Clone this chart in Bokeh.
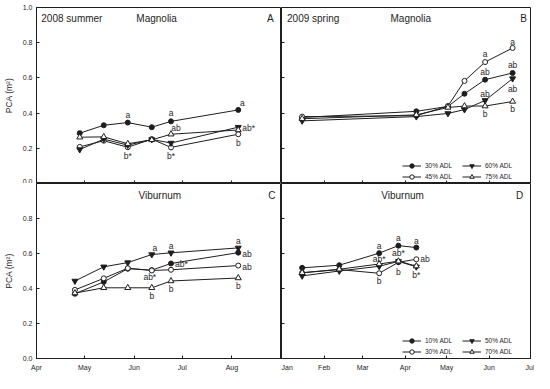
import pandas as pd
from bokeh.plotting import figure
from bokeh.layouts import gridplot
from bokeh.models import (FixedTicker, DatetimeTickFormatter, Legend, LegendItem,
                          Range1d, ColumnDataSource, PrintfTickFormatter)
from bokeh.core.properties import value
from bokeh.embed import file_html
from bokeh.resources import INLINE

# ---------------- data ----------------
# Panel A: Magnolia, 2008 summer
dates_mag08 = ["2008-04-28", "2008-05-13", "2008-05-28", "2008-06-12", "2008-06-24", "2008-08-05"]
mag08_30 = [0.286, 0.331, 0.346, 0.320, 0.353, 0.418]
mag08_45 = [0.208, 0.243, 0.206, 0.252, 0.205, 0.280]
mag08_60 = [0.193, 0.252, 0.218, 0.250, 0.230, 0.320]
mag08_75 = [0.263, 0.265, 0.226, 0.248, 0.280, 0.304]

# Panel B: Magnolia, 2009 spring
dates_mag09 = ["2009-01-16", "2009-04-09", "2009-05-02", "2009-05-14", "2009-05-29", "2009-06-18"]
mag09_30 = [0.375, 0.410, 0.438, 0.510, 0.590, 0.628]
mag09_45 = [0.380, 0.385, 0.440, 0.583, 0.690, 0.770]
mag09_60 = [0.356, 0.380, 0.398, 0.420, 0.472, 0.596]
mag09_75 = [0.368, 0.390, 0.432, 0.440, 0.440, 0.466]

# Panel C: Viburnum, 2008 summer
dates_vib08 = ["2008-04-25", "2008-05-13", "2008-05-28", "2008-06-12", "2008-06-24", "2008-08-05"]
vib08_10 = [0.370, 0.438, 0.513, 0.505, 0.543, 0.605]
vib08_30 = [0.392, 0.458, 0.516, 0.503, 0.507, 0.531]
vib08_50 = [0.443, 0.524, 0.548, 0.594, 0.604, 0.632]
vib08_70 = [0.374, 0.404, 0.404, 0.404, 0.443, 0.460]

# Panel D: Viburnum, 2009 spring
dates_vib09 = ["2009-01-16", "2009-02-12", "2009-03-13", "2009-03-27", "2009-04-09"]
vib09_10 = [0.518, 0.533, 0.602, 0.645, 0.634]
vib09_30 = [0.490, 0.508, 0.487, 0.550, 0.567]
vib09_50 = [0.472, 0.500, 0.527, 0.555, 0.524]
vib09_70 = [0.490, 0.510, 0.540, 0.556, 0.528]

months_2008 = ["2008-04-01", "2008-05-01", "2008-06-01", "2008-07-01", "2008-08-01"]
months_2009 = ["2009-01-01", "2009-02-01", "2009-03-01", "2009-04-01", "2009-05-01", "2009-06-01", "2009-07-01"]
y_ticks_top = [0.0, 0.2, 0.4, 0.6, 0.8, 1.0]
y_ticks_bottom = [0.0, 0.2, 0.4, 0.6, 0.8]

# significance letters: (series label, point index, text)
letters_A = [("30% ADL", 2, "a"), ("30% ADL", 4, "a"), ("30% ADL", 5, "a"), ("75% ADL", 4, "ab"),
             ("45% ADL", 2, "b*"), ("45% ADL", 4, "b*"), ("60% ADL", 5, "ab*"), ("45% ADL", 5, "b")]
letters_B = [("45% ADL", 5, "a"), ("45% ADL", 4, "a"), ("30% ADL", 4, "ab"), ("30% ADL", 5, "ab"),
             ("60% ADL", 5, "ab"), ("60% ADL", 4, "ab"), ("75% ADL", 4, "b"), ("75% ADL", 5, "b")]
letters_C = [("50% ADL", 3, "a"), ("50% ADL", 4, "a"), ("50% ADL", 5, "a"), ("10% ADL", 5, "ab"),
             ("10% ADL", 4, "ab*"), ("30% ADL", 3, "ab*"), ("30% ADL", 5, "ab"),
             ("70% ADL", 3, "b"), ("70% ADL", 4, "b"), ("70% ADL", 5, "b")]
letters_D = [("10% ADL", 2, "a"), ("10% ADL", 3, "a"), ("10% ADL", 4, "a"), ("50% ADL", 2, "ab*"),
             ("30% ADL", 3, "ab*"), ("30% ADL", 2, "b"), ("30% ADL", 3, "b"), ("30% ADL", 4, "ab"),
             ("50% ADL", 4, "b*")]

# letter placement (pixel offsets, alignment) – styling only
place_A = [(0, -8, "center"), (0, -8, "center"), (4, -7, "center"), (5, -6, "center"),
           (0, 9, "center"), (0, 9, "center"), (4, 1, "left"), (0, 9, "center")]
place_B = [(0, -6, "center"), (0, -8, "center"), (0, -8, "center"), (0, -8, "center"),
           (0, 10, "center"), (0, -6, "center"), (0, 8, "center"), (0, 8, "center")]
place_C = [(3, -7, "center"), (0, -7, "center"), (0, -7, "center"), (4, 1, "left"),
           (4, 1, "left"), (-2, 7, "center"), (4, 1, "left"),
           (0, 8, "center"), (0, 8, "center"), (0, 8, "center")]
place_D = [(0, -7, "center"), (0, -8, "center"), (0, -7, "center"), (0, -7, "center"),
           (0, -9, "center"), (0, 8, "center"), (0, 10, "center"), (4, 0, "left"),
           (0, 8, "center")]

FONT = "Liberation Sans"
INK = "#1e1e1e"
STYLES = [dict(marker="circle", fill_color=INK, size=5),
          dict(marker="circle", fill_color="white", size=5),
          dict(marker="inverted_triangle", fill_color=INK, size=6),
          dict(marker="triangle", fill_color="white", size=6)]


def tick_ms(d):
    return pd.Timestamp(d).value / 1e6


def make_panel(width, height, mbl, mbr, mbt, mbb, xr, month_ticks, y_ticks,
               show_x_labels, show_y_labels):
    p = figure(width=width, height=height, output_backend="svg", toolbar_location=None,
               x_axis_type="datetime",
               x_range=Range1d(pd.Timestamp(xr[0]), pd.Timestamp(xr[1])),
               y_range=Range1d(0, 1),
               min_border_left=mbl, min_border_right=mbr, min_border_top=mbt, min_border_bottom=mbb)
    p.background_fill_color = "white"
    p.border_fill_color = "white"
    p.outline_line_color = INK
    p.outline_line_width = 1
    p.xgrid.visible = False
    p.ygrid.visible = False
    xt = [tick_ms(m) for m in month_ticks]
    p.xaxis.ticker = FixedTicker(ticks=xt)
    p.xaxis.formatter = DatetimeTickFormatter(years="%b", months="%b", days="%b", hours="%b",
                                              hourmin="%b", minutes="%b", minsec="%b",
                                              seconds="%b", milliseconds="%b", microseconds="%b")
    p.yaxis.ticker = FixedTicker(ticks=y_ticks)
    p.yaxis.formatter = PrintfTickFormatter(format="%.1f")
    for ax in (p.xaxis[0], p.yaxis[0]):
        ax.axis_line_color = INK
        ax.major_tick_line_color = INK
        ax.major_tick_in = 3
        ax.major_tick_out = 0
        ax.minor_tick_line_color = None
        ax.major_label_text_font = FONT
        ax.major_label_text_font_size = "7px"
        ax.major_label_text_color = INK
    if show_x_labels:
        p.xaxis.major_label_standoff = 5
    else:
        p.xaxis.major_label_overrides = {t: "" for t in xt}
        p.xaxis.major_label_standoff = 0
    if show_y_labels:
        p.yaxis.major_label_standoff = 4
        p.yaxis.axis_label = "PCA (m²)"
        p.yaxis.axis_label_text_font = FONT
        p.yaxis.axis_label_text_font_size = "8.5px"
        p.yaxis.axis_label_text_font_style = "normal"
        p.yaxis.axis_label_text_color = INK
        p.yaxis.axis_label_standoff = 6
    else:
        p.yaxis.major_label_overrides = {t: "" for t in y_ticks}
        p.yaxis.major_label_standoff = 0
    return p


def add_series(p, dates, series, names, letters, places, legend_x=None):
    xs = pd.to_datetime(dates)
    items = []
    lookup = {}
    for ys, name, st in zip(series, names, STYLES):
        src = ColumnDataSource(dict(x=xs, y=ys))
        lr = p.line("x", "y", source=src, line_color=INK, line_width=1)
        sr = p.scatter("x", "y", source=src, marker=st["marker"], size=st["size"],
                       fill_color=st["fill_color"], line_color=INK, line_width=1)
        items.append(LegendItem(label=name, renderers=[lr, sr]))
        lookup[name] = ys
    # significance letters
    for align in ("center", "left"):
        tx, ty, tt, dx, dy = [], [], [], [], []
        for (name, idx, txt), (ox, oy, al) in zip(letters, places):
            if al != align:
                continue
            tx.append(xs[idx]); ty.append(lookup[name][idx]); tt.append(txt)
            dx.append(ox); dy.append(oy)
        if tx:
            p.text(x=tx, y=ty, text=tt, x_offset=dx, y_offset=dy, text_align=align,
                   text_baseline="middle", text_font=value(FONT), text_font_size="8.5px",
                   text_color=INK)
    if legend_x is None:
        return
    # legend: two columns
    for col, (a, b) in enumerate([(0, 1), (2, 3)]):
        lg = Legend(items=[items[a], items[b]], location=(legend_x[col], 1),
                    orientation="vertical", glyph_width=19, glyph_height=11,
                    label_height=7, label_standoff=4, spacing=-2, padding=0, margin=0,
                    label_text_font=FONT, label_text_font_size="6.5px", label_text_color=INK,
                    border_line_color=None, background_fill_alpha=0)
        p.add_layout(lg, "center")


def add_titles(p, left_text, left_x, mid_text, mid_x, letter, letter_x, y):
    if left_text:
        p.text(x=[pd.Timestamp(left_x)], y=[y], text=[left_text], text_align="left",
               text_baseline="middle", text_font=value(FONT), text_font_size="10px",
               text_color=INK)
    p.text(x=[pd.Timestamp(mid_x)], y=[y], text=[mid_text], text_align="center",
           text_baseline="middle", text_font=value(FONT), text_font_size="10px",
           text_color=INK)
    p.text(x=[pd.Timestamp(letter_x)], y=[y], text=[letter], text_align="center",
           text_baseline="middle", text_font=value(FONT), text_font_size="10px",
           text_color=INK)


xr08 = ("2008-04-01", "2008-09-01")
xr09 = ("2009-01-01", "2009-07-01")

pA = make_panel(281, 183, 34, 0, 7, 0, xr08, months_2008, y_ticks_top, False, True)
pB = make_panel(253, 183, 0, 4, 7, 0, xr09, months_2009, y_ticks_top, False, False)
pC = make_panel(281, 190, 34, 0, 0, 15, xr08, months_2008, y_ticks_bottom, True, True)
pD = make_panel(253, 190, 0, 4, 0, 15, xr09, months_2009, y_ticks_bottom, True, False)

add_series(pA, dates_mag08, [mag08_30, mag08_45, mag08_60, mag08_75],
           ["30% ADL", "45% ADL", "60% ADL", "75% ADL"], letters_A, place_A)
add_series(pB, dates_mag09, [mag09_30, mag09_45, mag09_60, mag09_75],
           ["30% ADL", "45% ADL", "60% ADL", "75% ADL"], letters_B, place_B, (121, 181))
add_series(pC, dates_vib08, [vib08_10, vib08_30, vib08_50, vib08_70],
           ["10% ADL", "30% ADL", "50% ADL", "70% ADL"], letters_C, place_C)
add_series(pD, dates_vib09, [vib09_10, vib09_30, vib09_50, vib09_70],
           ["10% ADL", "30% ADL", "50% ADL", "70% ADL"], letters_D, place_D, (121, 181))

add_titles(pA, "2008 summer", "2008-04-04", "Magnolia", "2008-06-15", "A", "2008-08-25", 0.939)
add_titles(pB, "2009 spring", "2009-01-05", "Magnolia", "2009-04-05", "B", "2009-06-26", 0.939)
add_titles(pC, None, None, "Viburnum", "2008-06-17", "C", "2008-08-26", 0.934)
add_titles(pD, None, None, "Viburnum", "2009-03-30", "D", "2009-06-23", 0.934)

grid = gridplot([[pA, pB], [pC, pD]], toolbar_location=None)

open("out.html", "w").write(file_html(grid, INLINE))
